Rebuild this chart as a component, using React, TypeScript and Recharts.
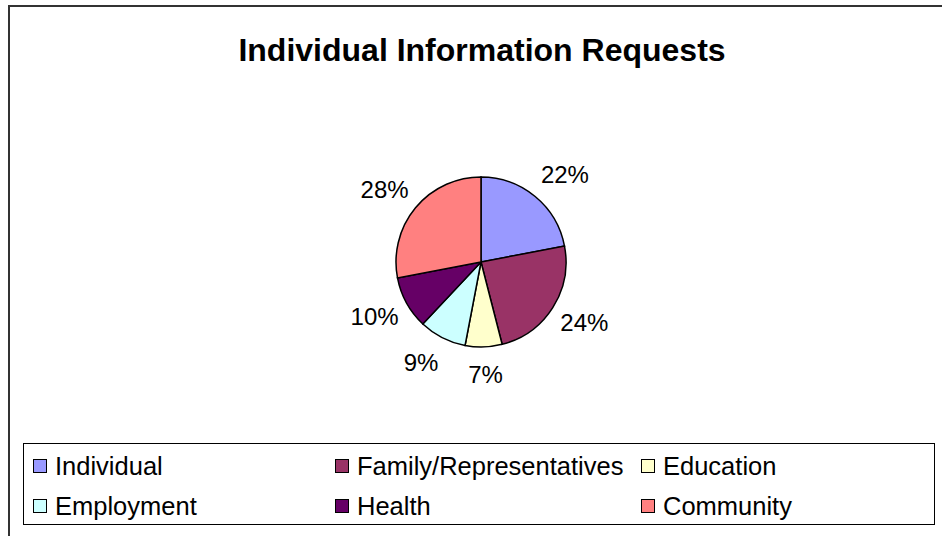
import React from "react";
import { PieChart, Pie, Cell, Legend } from "recharts";

const categories = ["Individual", "Family/Representatives", "Education", "Employment", "Health", "Community"];
const values = [22, 24, 7, 9, 10, 28];
const colors = ["#9999FF", "#993366", "#FFFFCC", "#CCFFFF", "#660066", "#FF8080"];
const title = "Individual Information Requests";

const data = categories.map((name, i) => ({ name, value: values[i] }));

const FONT = "'Liberation Sans', Arial, Helvetica, sans-serif";
const RAD = Math.PI / 180;

const renderLabel = (props: any) => {
  const { cx, cy, midAngle, outerRadius, value } = props;
  const text = `${value}%`;
  const fs = 24;
  const w = (String(value).length * 0.556 + 0.889) * fs;
  const ux = Math.cos(-midAngle * RAD);
  const uy = Math.sin(-midAngle * RAD);
  const r = outerRadius + 9;
  const sx = Math.max(-1, Math.min(1, ux * 3));
  const x = cx + r * ux + sx * (w / 2);
  const y = cy + r * uy + uy * 19;
  return (
    <text x={x} y={y} textAnchor="middle" dominantBaseline="central" fontFamily={FONT} fontSize={fs} fill="#000">
      {text}
    </text>
  );
};

const colX = [9, 311, 617];
const rowY = [22, 62];

const renderLegend = () => (
  <div style={{ position: "relative", width: 912, height: 82, border: "1px solid #000", boxSizing: "border-box", background: "#fff" }}>
    {categories.map((name, i) => {
      const col = i % 3;
      const row = Math.floor(i / 3);
      return (
        <div
          key={name}
          style={{
            position: "absolute",
            left: colX[col],
            top: rowY[row] - 14,
            height: 28,
            display: "flex",
            alignItems: "center",
            fontFamily: FONT,
            fontSize: 25.5,
            color: "#000",
            whiteSpace: "nowrap",
          }}
        >
          <span style={{ display: "inline-block", width: 12, height: 12, background: colors[i], border: "1.5px solid #000", marginRight: 8 }} />
          {name}
        </div>
      );
    })}
  </div>
);

export default function App() {
  return (
    <div style={{ position: "absolute", left: 0, top: 0, width: 942, height: 536, background: "#fff", overflow: "hidden" }}>
      <div style={{ position: "absolute", left: 8, top: 5, width: 960, height: 560, borderLeft: "2px solid #333", borderTop: "2px solid #333" }} />
      <div
        style={{
          position: "absolute",
          left: 0,
          top: 30,
          width: 964,
          textAlign: "center",
          fontFamily: FONT,
          fontWeight: "bold",
          fontSize: 32,
          lineHeight: "40px",
          color: "#000",
        }}
      >
        {title}
      </div>
      <div style={{ position: "absolute", left: 0, top: 0 }}>
        <PieChart width={942} height={536} margin={{ top: 0, right: 0, bottom: 0, left: 0 }}>
          <Pie
            data={data}
            dataKey="value"
            nameKey="name"
            cx={481}
            cy={262}
            outerRadius={85}
            startAngle={90}
            endAngle={-270}
            stroke="#000"
            strokeWidth={1.5}
            label={renderLabel}
            labelLine={false}
            isAnimationActive={false}
          >
            {data.map((d, i) => (
              <Cell key={d.name} fill={colors[i]} />
            ))}
          </Pie>
          <Legend
            content={renderLegend}
            wrapperStyle={{ position: "absolute", left: 23, top: 443, width: 912, height: 82 }}
          />
        </PieChart>
      </div>
    </div>
  );
}
